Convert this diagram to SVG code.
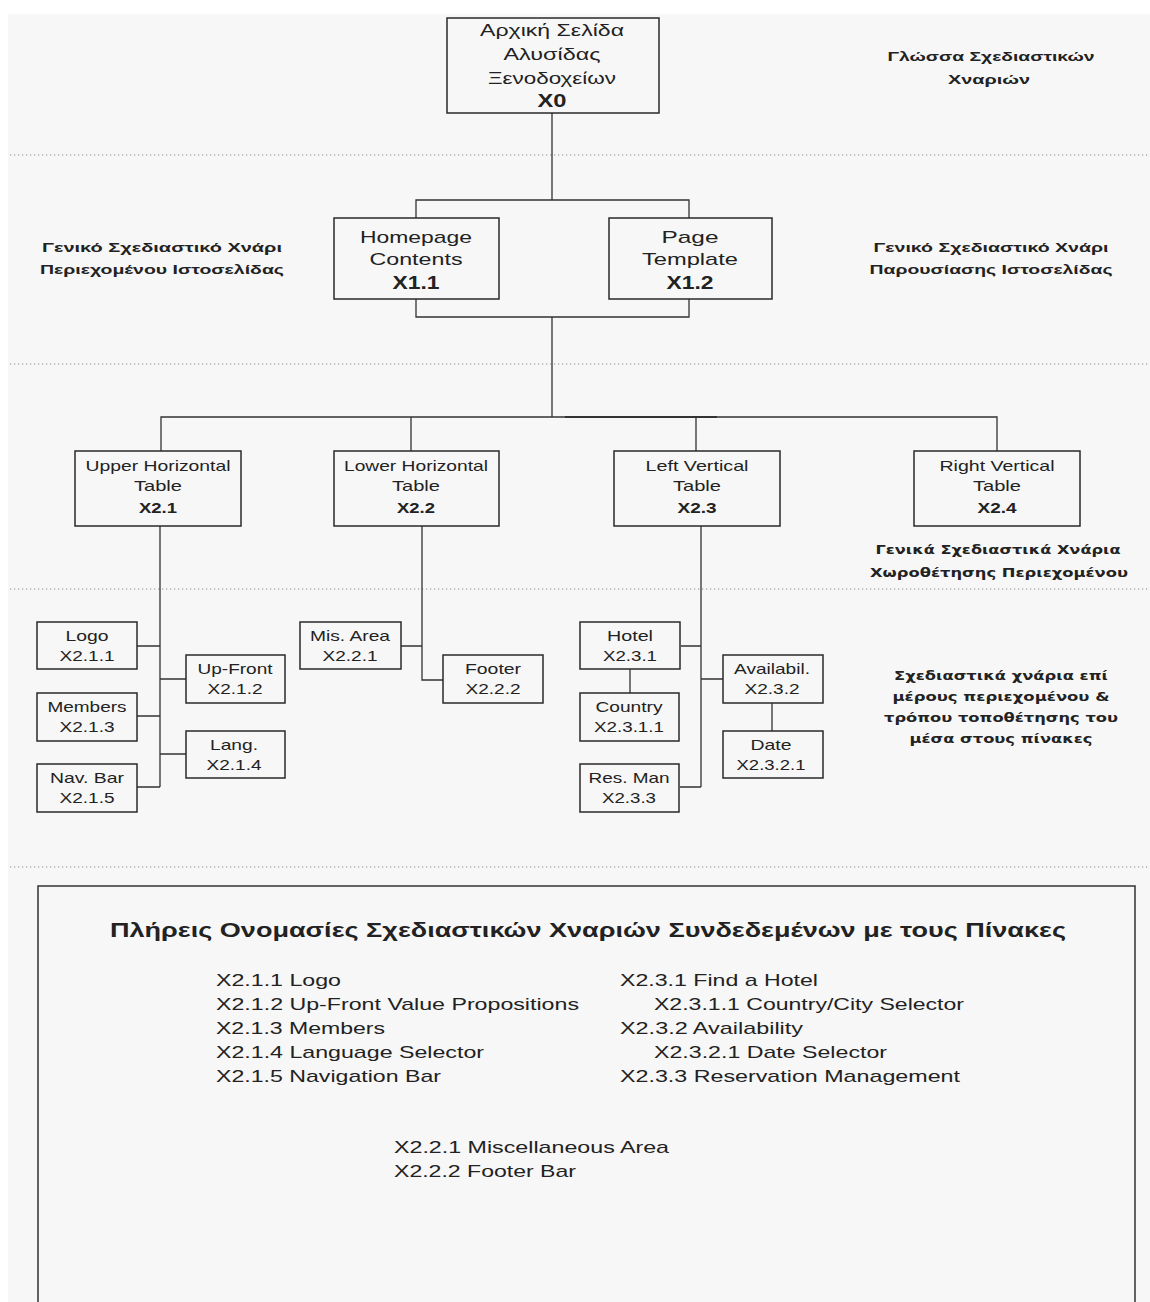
<svg xmlns="http://www.w3.org/2000/svg" width="1150" height="1302" viewBox="0 0 1150 1302">
<style>
.bg{fill:#f7f7f7}
.box{fill:#f7f7f7;stroke:#2a2a2a;stroke-width:1.5}
.c{stroke:#333;stroke-width:1.3;fill:none}
.dot{stroke:#8a8a8a;stroke-width:1.2;stroke-dasharray:1.2 2.8;fill:none}
text{font-family:"Liberation Sans",Arial,sans-serif;fill:#222;text-anchor:middle}
.n{font-size:15px}
.m{font-size:17px}
.mb{font-size:18px;font-weight:bold}
.b{font-weight:bold}
.lab{font-size:13.5px;font-weight:bold}
.lab2{font-family:"DejaVu Sans",Verdana,sans-serif;font-size:13px;font-weight:bold}
.leg{font-size:17px;text-anchor:start}
.ttl{font-size:21px;font-weight:bold}
</style>
<rect x="0" y="0" width="1150" height="1302" fill="#ffffff"/>
<rect class="bg" x="8" y="14" width="1142" height="1288"/>

<g id="separators">
<line class="dot" x1="10" y1="155" x2="1150" y2="155"/>
<line class="dot" x1="10" y1="364" x2="1150" y2="364"/>
<line class="dot" x1="10" y1="589" x2="1150" y2="589"/>
<line class="dot" x1="10" y1="867" x2="1150" y2="867"/>
</g>

<g id="connectors">
<path class="c" d="M552 113V200M416 218V200H689V218"/>
<path class="c" d="M416 299V317H689V299M552 317V417"/>
<path class="c" d="M161 451V417H997V451M411 417V451M696 417V451"/>
<line x1="565" y1="417" x2="717" y2="417" stroke="#333" stroke-width="2.2"/>
<path class="c" d="M160 526V787M137 646H160M160 679H186M137 716H160M160 754H186M137 787H160"/>
<path class="c" d="M422 526V680H443M401 646H422"/>
<path class="c" d="M701 526V787M681 646H701M701 679H723M680 787H701M630 669V693M772 703V731"/>
</g>

<g id="labels">
<text class="lab" x="991" y="61" textLength="207" lengthAdjust="spacingAndGlyphs">Γλώσσα Σχεδιαστικών</text>
<text class="lab" x="989" y="84" textLength="82" lengthAdjust="spacingAndGlyphs">Χναριών</text>
<text class="lab" x="162" y="252" textLength="240" lengthAdjust="spacingAndGlyphs">Γενικό Σχεδιαστικό Χνάρι</text>
<text class="lab" x="162" y="274" textLength="244" lengthAdjust="spacingAndGlyphs">Περιεχομένου Ιστοσελίδας</text>
<text class="lab" x="991" y="252" textLength="235" lengthAdjust="spacingAndGlyphs">Γενικό Σχεδιαστικό Χνάρι</text>
<text class="lab" x="991" y="274" textLength="243" lengthAdjust="spacingAndGlyphs">Παρουσίασης Ιστοσελίδας</text>
<text class="lab2" x="998" y="554" textLength="245" lengthAdjust="spacingAndGlyphs">Γενικά Σχεδιαστικά Χνάρια</text>
<text class="lab2" x="999" y="577" textLength="258" lengthAdjust="spacingAndGlyphs">Χωροθέτησης Περιεχομένου</text>
<text class="lab2" x="1001" y="680" textLength="214" lengthAdjust="spacingAndGlyphs">Σχεδιαστικά χνάρια επί</text>
<text class="lab2" x="1001" y="701" textLength="217" lengthAdjust="spacingAndGlyphs">μέρους περιεχομένου &amp;</text>
<text class="lab2" x="1001" y="722" textLength="234" lengthAdjust="spacingAndGlyphs">τρόπου τοποθέτησης του</text>
<text class="lab2" x="1001" y="743" textLength="183" lengthAdjust="spacingAndGlyphs">μέσα στους πίνακες</text>
</g>

<g id="X0">
<rect class="box" x="447" y="18" width="212" height="95"/>
<text class="m" x="552" y="36" textLength="144" lengthAdjust="spacingAndGlyphs">Αρχική Σελίδα</text>
<text class="m" x="552" y="60" textLength="97" lengthAdjust="spacingAndGlyphs">Αλυσίδας</text>
<text class="m" x="552" y="84" textLength="128" lengthAdjust="spacingAndGlyphs">Ξενοδοχείων</text>
<text class="mb" x="552" y="107" textLength="29" lengthAdjust="spacingAndGlyphs">X0</text>
</g>

<g id="X1.1">
<rect class="box" x="334" y="218" width="165" height="81"/>
<text class="m" x="416" y="243" textLength="112" lengthAdjust="spacingAndGlyphs">Homepage</text>
<text class="m" x="416" y="265" textLength="93" lengthAdjust="spacingAndGlyphs">Contents</text>
<text class="mb" x="416" y="289" textLength="47" lengthAdjust="spacingAndGlyphs">X1.1</text>
</g>

<g id="X1.2">
<rect class="box" x="609" y="218" width="163" height="81"/>
<text class="m" x="690" y="243" textLength="57" lengthAdjust="spacingAndGlyphs">Page</text>
<text class="m" x="690" y="265" textLength="96" lengthAdjust="spacingAndGlyphs">Template</text>
<text class="mb" x="690" y="289" textLength="47" lengthAdjust="spacingAndGlyphs">X1.2</text>
</g>

<g id="X2.1">
<rect class="box" x="75" y="451" width="166" height="75"/>
<text class="n" x="158" y="471" textLength="145" lengthAdjust="spacingAndGlyphs">Upper Horizontal</text>
<text class="n" x="158" y="491" textLength="48" lengthAdjust="spacingAndGlyphs">Table</text>
<text class="n b" x="158" y="513" textLength="38" lengthAdjust="spacingAndGlyphs">X2.1</text>
</g>

<g id="X2.2">
<rect class="box" x="334" y="451" width="165" height="75"/>
<text class="n" x="416" y="471" textLength="144" lengthAdjust="spacingAndGlyphs">Lower Horizontal</text>
<text class="n" x="416" y="491" textLength="48" lengthAdjust="spacingAndGlyphs">Table</text>
<text class="n b" x="416" y="513" textLength="38" lengthAdjust="spacingAndGlyphs">X2.2</text>
</g>

<g id="X2.3">
<rect class="box" x="614" y="451" width="166" height="75"/>
<text class="n" x="697" y="471" textLength="103" lengthAdjust="spacingAndGlyphs">Left Vertical</text>
<text class="n" x="697" y="491" textLength="48" lengthAdjust="spacingAndGlyphs">Table</text>
<text class="n b" x="697" y="513" textLength="39" lengthAdjust="spacingAndGlyphs">X2.3</text>
</g>

<g id="X2.4">
<rect class="box" x="914" y="451" width="166" height="75"/>
<text class="n" x="997" y="471" textLength="115" lengthAdjust="spacingAndGlyphs">Right Vertical</text>
<text class="n" x="997" y="491" textLength="48" lengthAdjust="spacingAndGlyphs">Table</text>
<text class="n b" x="997" y="513" textLength="39" lengthAdjust="spacingAndGlyphs">X2.4</text>
</g>

<g id="X2.1.1">
<rect class="box" x="37" y="622" width="100" height="47"/>
<text class="n" x="87" y="641" textLength="43" lengthAdjust="spacingAndGlyphs">Logo</text>
<text class="n" x="87" y="661" textLength="55" lengthAdjust="spacingAndGlyphs">X2.1.1</text>
</g>
<g id="X2.1.2">
<rect class="box" x="186" y="655" width="99" height="48"/>
<text class="n" x="235" y="674" textLength="75" lengthAdjust="spacingAndGlyphs">Up-Front</text>
<text class="n" x="235" y="694" textLength="55" lengthAdjust="spacingAndGlyphs">X2.1.2</text>
</g>
<g id="X2.1.3">
<rect class="box" x="37" y="693" width="100" height="48"/>
<text class="n" x="87" y="712" textLength="79" lengthAdjust="spacingAndGlyphs">Members</text>
<text class="n" x="87" y="732" textLength="55" lengthAdjust="spacingAndGlyphs">X2.1.3</text>
</g>
<g id="X2.1.4">
<rect class="box" x="186" y="731" width="99" height="47"/>
<text class="n" x="234" y="750" textLength="48" lengthAdjust="spacingAndGlyphs">Lang.</text>
<text class="n" x="234" y="770" textLength="55" lengthAdjust="spacingAndGlyphs">X2.1.4</text>
</g>
<g id="X2.1.5">
<rect class="box" x="37" y="764" width="100" height="48"/>
<text class="n" x="87" y="783" textLength="74" lengthAdjust="spacingAndGlyphs">Nav. Bar</text>
<text class="n" x="87" y="803" textLength="55" lengthAdjust="spacingAndGlyphs">X2.1.5</text>
</g>

<g id="X2.2.1">
<rect class="box" x="300" y="622" width="101" height="47"/>
<text class="n" x="350" y="641" textLength="80" lengthAdjust="spacingAndGlyphs">Mis. Area</text>
<text class="n" x="350" y="661" textLength="55" lengthAdjust="spacingAndGlyphs">X2.2.1</text>
</g>
<g id="X2.2.2">
<rect class="box" x="443" y="655" width="100" height="48"/>
<text class="n" x="493" y="674" textLength="56" lengthAdjust="spacingAndGlyphs">Footer</text>
<text class="n" x="493" y="694" textLength="55" lengthAdjust="spacingAndGlyphs">X2.2.2</text>
</g>

<g id="X2.3.1">
<rect class="box" x="580" y="622" width="100" height="47"/>
<text class="n" x="630" y="641" textLength="46" lengthAdjust="spacingAndGlyphs">Hotel</text>
<text class="n" x="630" y="661" textLength="54" lengthAdjust="spacingAndGlyphs">X2.3.1</text>
</g>
<g id="X2.3.1.1">
<rect class="box" x="580" y="693" width="99" height="48"/>
<text class="n" x="629" y="712" textLength="67" lengthAdjust="spacingAndGlyphs">Country</text>
<text class="n" x="629" y="732" textLength="70" lengthAdjust="spacingAndGlyphs">X2.3.1.1</text>
</g>
<g id="X2.3.2">
<rect class="box" x="723" y="655" width="100" height="48"/>
<text class="n" x="772" y="674" textLength="76" lengthAdjust="spacingAndGlyphs">Availabil.</text>
<text class="n" x="772" y="694" textLength="55" lengthAdjust="spacingAndGlyphs">X2.3.2</text>
</g>
<g id="X2.3.2.1">
<rect class="box" x="723" y="731" width="100" height="47"/>
<text class="n" x="771" y="750" textLength="41" lengthAdjust="spacingAndGlyphs">Date</text>
<text class="n" x="771" y="770" textLength="69" lengthAdjust="spacingAndGlyphs">X2.3.2.1</text>
</g>
<g id="X2.3.3">
<rect class="box" x="580" y="764" width="99" height="48"/>
<text class="n" x="629" y="783" textLength="81" lengthAdjust="spacingAndGlyphs">Res. Man</text>
<text class="n" x="629" y="803" textLength="54" lengthAdjust="spacingAndGlyphs">X2.3.3</text>
</g>

<g id="legend">
<path d="M38 1302V886H1135V1302" fill="#f7f7f7" stroke="#333" stroke-width="1.5"/>
<text class="ttl" x="588" y="937" textLength="956" lengthAdjust="spacingAndGlyphs">Πλήρεις Ονομασίες Σχεδιαστικών Χναριών Συνδεδεμένων με τους Πίνακες</text>
<text class="leg" x="216" y="986" textLength="125" lengthAdjust="spacingAndGlyphs">X2.1.1 Logo</text>
<text class="leg" x="216" y="1010" textLength="363" lengthAdjust="spacingAndGlyphs">X2.1.2 Up-Front Value Propositions</text>
<text class="leg" x="216" y="1034" textLength="169" lengthAdjust="spacingAndGlyphs">X2.1.3 Members</text>
<text class="leg" x="216" y="1058" textLength="268" lengthAdjust="spacingAndGlyphs">X2.1.4 Language Selector</text>
<text class="leg" x="216" y="1082" textLength="225" lengthAdjust="spacingAndGlyphs">X2.1.5 Navigation Bar</text>
<text class="leg" x="620" y="986" textLength="198" lengthAdjust="spacingAndGlyphs">X2.3.1 Find a Hotel</text>
<text class="leg" x="654" y="1010" textLength="310" lengthAdjust="spacingAndGlyphs">X2.3.1.1 Country/City Selector</text>
<text class="leg" x="620" y="1034" textLength="183" lengthAdjust="spacingAndGlyphs">X2.3.2 Availability</text>
<text class="leg" x="654" y="1058" textLength="233" lengthAdjust="spacingAndGlyphs">X2.3.2.1 Date Selector</text>
<text class="leg" x="620" y="1082" textLength="340" lengthAdjust="spacingAndGlyphs">X2.3.3 Reservation Management</text>
<text class="leg" x="394" y="1153" textLength="275" lengthAdjust="spacingAndGlyphs">X2.2.1 Miscellaneous Area</text>
<text class="leg" x="394" y="1177" textLength="182" lengthAdjust="spacingAndGlyphs">X2.2.2 Footer Bar</text>
</g>
</svg>
